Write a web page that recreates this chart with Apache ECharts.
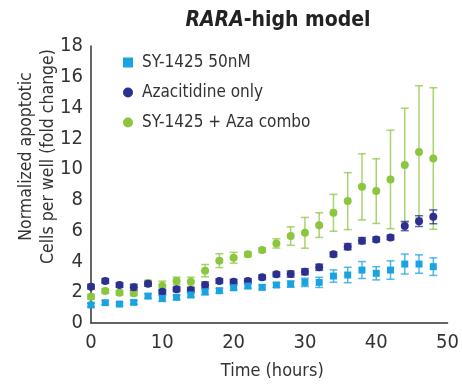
<!DOCTYPE html>
<html>
<head>
<meta charset="utf-8">
<script src="https://cdn.jsdelivr.net/npm/echarts@6/dist/echarts.min.js"></script>
<style>
  html, body { margin: 0; padding: 0; background: #fff; }
  #chart { width: 462px; height: 385px; }
</style>
</head>
<body>
<div id="chart"></div>
<script>
// time points (hours)
const hours = [0, 2, 4, 6, 8, 10, 12, 14, 16, 18, 20, 22, 24, 26, 28, 30, 32, 34, 36, 38, 40, 42, 44, 46, 48];

// SY-1425 50nM
const sy1425 = [1.17, 1.32, 1.23, 1.34, 1.75, 1.6, 1.67, 1.82, 2.03, 2.1, 2.29, 2.4, 2.32, 2.47, 2.53, 2.64, 2.64, 3.05, 3.12, 3.44, 3.23, 3.44, 3.83, 3.83, 3.66];
const sy1425Err = [0.12, 0.12, 0.1, 0.12, 0.15, 0.2, 0.15, 0.15, 0.2, 0.15, 0.15, 0.15, 0.15, 0.15, 0.2, 0.27, 0.33, 0.4, 0.5, 0.55, 0.43, 0.6, 0.65, 0.6, 0.57];

// Azacitidine only
const aza = [2.36, 2.73, 2.47, 2.32, 2.55, 2.03, 2.19, 2.14, 2.47, 2.73, 2.68, 2.73, 2.97, 3.16, 3.18, 3.33, 3.62, 4.46, 4.96, 5.35, 5.43, 5.56, 6.3, 6.62, 6.9];
const azaErr = [0.15, 0.15, 0.15, 0.2, 0.15, 0.15, 0.15, 0.15, 0.2, 0.15, 0.15, 0.15, 0.15, 0.15, 0.2, 0.2, 0.2, 0.15, 0.2, 0.2, 0.15, 0.15, 0.3, 0.35, 0.45];

// SY-1425 + Aza combo
const combo = [1.71, 2.08, 1.97, 1.93, 2.58, 2.42, 2.73, 2.68, 3.4, 4.05, 4.24, 4.46, 4.74, 5.17, 5.65, 5.86, 6.36, 7.16, 7.92, 8.85, 8.57, 9.33, 10.26, 11.12, 10.69];
const comboErr = [0.15, 0.15, 0.15, 0.15, 0.2, 0.3, 0.25, 0.3, 0.4, 0.45, 0.35, 0.15, 0.15, 0.3, 0.6, 1.0, 0.8, 1.2, 1.85, 2.15, 2.1, 3.2, 3.7, 4.3, 4.6];

const seriesNames = ['SY-1425 50nM', 'Azacitidine only', 'SY-1425 + Aza combo'];

// narrow face first, the reference lettering is condensed
const FONT = '"Liberation Sans Narrow", "DejaVu Sans Condensed", "Liberation Sans", Arial, sans-serif';
const C_LIGHT = '#1aa3e0';
const C_DARK = '#2b2f8f';
const C_GREEN = '#8cc63f';

const chart = echarts.init(document.getElementById('chart'));

function pairs(vals) {
  return hours.map((h, i) => [h, vals[i]]);
}

function errData(vals, errs) {
  return hours.map((h, i) => [h, vals[i] - errs[i], vals[i] + errs[i]]);
}

function errorBars(color) {
  return function (params, api) {
    const x = api.value(0);
    const lo = api.coord([x, api.value(1)]);
    const hi = api.coord([x, api.value(2)]);
    const w = 4;
    const style = { stroke: color, lineWidth: 1.5, opacity: 0.75 };
    return {
      type: 'group',
      children: [
        { type: 'line', shape: { x1: hi[0], y1: hi[1], x2: lo[0], y2: lo[1] }, style },
        { type: 'line', shape: { x1: hi[0] - w, y1: hi[1], x2: hi[0] + w, y2: hi[1] }, style },
        { type: 'line', shape: { x1: lo[0] - w, y1: lo[1], x2: lo[0] + w, y2: lo[1] }, style },
      ],
    };
  };
}

const option = {
  backgroundColor: '#fff',
  animation: false,
  title: {
    text: '{i|RARA}{b|-high model}',
    left: 273,
    textAlign: 'center',
    top: 5,
    textStyle: {
      rich: {
        i: { fontFamily: FONT, fontSize: 21, fontWeight: 'bold', fontStyle: 'italic', color: '#222' },
        b: { fontFamily: FONT, fontSize: 21, fontWeight: 'bold', color: '#222' },
      },
    },
  },
  legend: {
    orient: 'vertical',
    left: 123,
    top: 54,
    padding: 0,
    itemWidth: 10,
    itemHeight: 10,
    itemGap: 13,
    textStyle: { fontFamily: FONT, fontSize: 17, color: '#333', padding: [0, 0, 0, 4] },
    data: [
      { name: seriesNames[0], icon: 'rect' },
      { name: seriesNames[1], icon: 'circle' },
      { name: seriesNames[2], icon: 'circle' },
    ],
  },
  grid: { left: 91, top: 46, width: 358, height: 278 },
  xAxis: {
    type: 'value',
    min: 0,
    max: 50,
    interval: 10,
    name: 'Time (hours)',
    nameLocation: 'middle',
    nameGap: 39,
    nameTextStyle: { fontFamily: FONT, fontSize: 18, color: '#333', padding: [0, 0, 0, 6] },
    axisLine: { lineStyle: { color: '#333', width: 1.5 } },
    axisTick: { show: false },
    splitLine: { show: false },
    axisLabel: { fontFamily: FONT, fontSize: 20, color: '#333', margin: 10 },
  },
  yAxis: {
    type: 'value',
    min: 0,
    max: 18,
    interval: 2,
    name: 'Normalized apoptotic\nCells per well (fold change)',
    nameLocation: 'middle',
    nameRotate: 90,
    nameGap: 32,
    nameMoveOverlap: false,
    nameTextStyle: { fontFamily: FONT, fontSize: 17.5, color: '#333', lineHeight: 22, padding: [0, 0, 0, 56] },
    axisLine: { show: true, lineStyle: { color: '#333', width: 1.5 } },
    axisTick: { show: false },
    splitLine: { show: false },
    axisLabel: { fontFamily: FONT, fontSize: 20, color: '#333', margin: 8 },
  },
  series: [
    {
      name: 'combo-err',
      type: 'custom',
      renderItem: errorBars(C_GREEN),
      encode: { x: 0, y: [1, 2] },
      data: errData(combo, comboErr),
      silent: true,
      z: 1,
    },
    {
      name: 'aza-err',
      type: 'custom',
      renderItem: errorBars(C_DARK),
      encode: { x: 0, y: [1, 2] },
      data: errData(aza, azaErr),
      silent: true,
      z: 2,
    },
    {
      name: 'sy-err',
      type: 'custom',
      renderItem: errorBars(C_LIGHT),
      encode: { x: 0, y: [1, 2] },
      data: errData(sy1425, sy1425Err),
      silent: true,
      z: 3,
    },
    {
      name: seriesNames[2],
      type: 'scatter',
      symbol: 'circle',
      symbolSize: 8,
      itemStyle: { color: C_GREEN, opacity: 1 },
      data: pairs(combo),
      z: 4,
    },
    {
      name: seriesNames[1],
      type: 'scatter',
      symbol: 'circle',
      symbolSize: 8,
      itemStyle: { color: C_DARK, opacity: 1 },
      data: pairs(aza),
      z: 5,
    },
    {
      name: seriesNames[0],
      type: 'scatter',
      symbol: 'rect',
      symbolSize: 7,
      itemStyle: { color: C_LIGHT, opacity: 1 },
      data: pairs(sy1425),
      z: 6,
    },
  ],
};

chart.setOption(option);
</script>
</body>
</html>
